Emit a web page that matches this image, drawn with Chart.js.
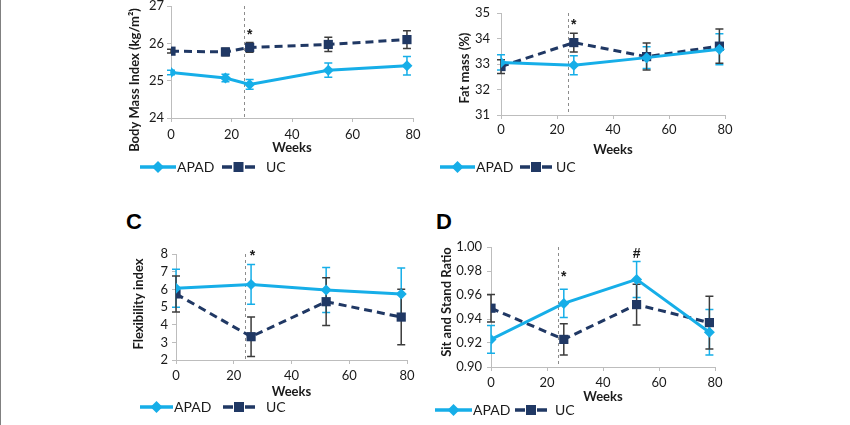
<!DOCTYPE html>
<html><head><meta charset="utf-8">
<script src="https://cdn.jsdelivr.net/npm/chart.js@4.4.1/dist/chart.umd.min.js"></script>
<style>
html,body{margin:0;padding:0;background:#fff;}
body{width:850px;height:425px;position:relative;overflow:hidden;}
canvas{position:absolute;}
.edge{position:absolute;left:0;top:0;width:1px;height:425px;background:#808080;}
.lbl{position:absolute;font:bold 22px 'Liberation Sans',Arial,sans-serif;color:#000;line-height:22px;}
</style></head>
<body>
<div class="edge"></div>
<div class="lbl" style="left:126px;top:211px">C</div>
<div class="lbl" style="left:436px;top:211px">D</div>
<canvas id="cA"></canvas>
<canvas id="cB"></canvas>
<canvas id="cC"></canvas>
<canvas id="cD"></canvas>
<script>
// ---- data ----
const seriesNames = ['APAD', 'UC'];
const weeksBMI = [0, 18, 26, 52, 78];
const weeks = [0, 26, 52, 78];
const interventionWeek = 24;

const bmiAPAD = [25.22, 25.07, 24.90, 25.28, 25.40];
const bmiAPADErr = [0.06, 0.10, 0.13, 0.19, 0.25];
const bmiUC = [25.79, 25.77, 25.89, 25.97, 26.10];
const bmiUCErr = [0.05, 0.10, 0.13, 0.19, 0.24];

const fatAPAD = [33.06, 32.95, 33.25, 33.58];
const fatAPADErr = [0.30, 0.37, 0.43, 0.61];
const fatUC = [32.90, 33.84, 33.29, 33.70];
const fatUCErr = [0.27, 0.37, 0.53, 0.67];

const flexAPAD = [6.06, 6.28, 5.96, 5.74];
const flexAPADErr = [1.07, 1.12, 1.27, 1.47];
const flexUC = [5.74, 3.32, 5.30, 4.43];
const flexUCErr = [1.02, 1.12, 1.35, 1.57];

const sitAPAD = [0.923, 0.953, 0.973, 0.929];
const sitAPADErr = [0.0115, 0.0118, 0.015, 0.019];
const sitUC = [0.949, 0.923, 0.952, 0.937];
const sitUCErr = [0.0115, 0.013, 0.017, 0.022];

const marksBMI = [{x: 26, y: 26.22, t: '*'}];
const marksFat = [{x: 26, y: 34.54, t: '*'}];
const marksFlex = [{x: 26.5, y: 7.88, t: '*'}];
const marksSit = [{x: 26, y: 0.975, t: '*'}, {x: 52, y: 0.994, t: '#'}];

// ---- style ----
const CYAN = '#16aee8';
const NAVY = '#203864';
const UC_ERR = '#3c3c3c';
const AXIS = '#bdbdbd';
const TXT = '#1a1a1a';
const FONT = 'Lato, "Liberation Sans", sans-serif';
Chart.defaults.font.family = FONT;
Chart.defaults.color = TXT;

const extrasPlugin = {
  id: 'extras',
  beforeDatasetsDraw(chart) {
    const {ctx, chartArea, scales} = chart;
    const vx = scales.x.getPixelForValue(interventionWeek);
    ctx.save();
    ctx.strokeStyle = '#8c8c8c'; ctx.lineWidth = 1; ctx.setLineDash([3, 3]);
    ctx.beginPath(); ctx.moveTo(Math.round(vx) + 0.5, chartArea.top); ctx.lineTo(Math.round(vx) + 0.5, chartArea.bottom); ctx.stroke();
    ctx.restore();
    chart.data.datasets.forEach((ds, i) => {
      const meta = chart.getDatasetMeta(i);
      ctx.save();
      ctx.strokeStyle = ds.errColor; ctx.lineWidth = 1.5; ctx.setLineDash([]);
      meta.data.forEach((pt, j) => {
        const v = ds.data[j].y, e = ds.errors[j];
        const y1 = scales.y.getPixelForValue(v + e), y2 = scales.y.getPixelForValue(v - e);
        ctx.beginPath();
        ctx.moveTo(pt.x, y1); ctx.lineTo(pt.x, y2);
        ctx.moveTo(pt.x - 4, y1); ctx.lineTo(pt.x + 4, y1);
        ctx.moveTo(pt.x - 4, y2); ctx.lineTo(pt.x + 4, y2);
        ctx.stroke();
      });
      ctx.restore();
    });
  },
  afterDraw(chart) {
    const o = chart.options.plugins.extras;
    const {ctx, scales} = chart;
    ctx.save();
    ctx.fillStyle = TXT; ctx.textAlign = 'center'; ctx.textBaseline = 'middle';
    ctx.font = 'bold 14px "Liberation Sans", Arial, sans-serif';
    o.marks.forEach(m => ctx.fillText(m.t, scales.x.getPixelForValue(m.x), scales.y.getPixelForValue(m.y)));
    ctx.save();
    ctx.translate(o.yTitle.x - o.cx, o.yTitle.y - o.cy);
    ctx.rotate(-Math.PI / 2);
    ctx.font = 'bold 13px ' + FONT;
    ctx.fillText(o.yTitle.text, 0, 0);
    ctx.restore();
    const ly = o.legend.y - o.cy;
    chart.data.datasets.forEach((ds, i) => {
      const it = o.legend.items[i];
      const x0 = it.x - o.cx, x1 = x0 + it.len;
      const mx = (x0 + x1) / 2;
      ctx.strokeStyle = ds.borderColor; ctx.lineWidth = 3.5;
      ctx.beginPath();
      if (ds.borderDash) {
        ctx.moveTo(x0, ly); ctx.lineTo(x0 + 10, ly);
        ctx.moveTo(x1 - 10, ly); ctx.lineTo(x1, ly);
      } else {
        ctx.moveTo(x0, ly); ctx.lineTo(x1, ly);
      }
      ctx.stroke();
      ctx.fillStyle = ds.borderColor;
      ctx.beginPath();
      if (ds.pointStyle === 'rectRot') {
        ctx.moveTo(mx, ly - 6); ctx.lineTo(mx + 6, ly); ctx.lineTo(mx, ly + 6); ctx.lineTo(mx - 6, ly);
        ctx.closePath();
      } else {
        ctx.rect(mx - 5, ly - 5, 10, 10);
      }
      ctx.fill();
      ctx.fillStyle = TXT; ctx.font = '14px ' + FONT; ctx.textAlign = 'left';
      ctx.fillText(ds.label, it.textX - o.cx, ly);
    });
    ctx.restore();
  }
};

function makePanel(id, p) {
  const cv = document.getElementById(id);
  cv.style.left = p.cx + 'px'; cv.style.top = p.cy + 'px';
  cv.width = p.w; cv.height = p.h;
  cv.style.width = p.w + 'px'; cv.style.height = p.h + 'px';
  const xAxisBottom = p.weeksY + 10.8;
  const xAxisH = xAxisBottom - p.area.b;
  const yAxisW = p.area.l - p.cx;
  const mk = (xs, ys) => xs.map((x, i) => ({x: x, y: ys[i]}));
  return new Chart(cv, {
    type: 'line',
    data: {
      datasets: [
        {label: seriesNames[0], data: mk(p.x1, p.apad), errors: p.apadErr, errColor: CYAN,
         borderColor: CYAN, backgroundColor: CYAN, borderWidth: 3, tension: 0,
         pointStyle: 'rectRot', pointRadius: 5.5, pointBorderWidth: 0, pointBackgroundColor: CYAN},
        {label: seriesNames[1], data: mk(p.x2, p.uc), errors: p.ucErr, errColor: UC_ERR,
         borderColor: NAVY, backgroundColor: NAVY, borderWidth: 3, borderDash: [8, 5], tension: 0,
         pointStyle: 'rect', pointRadius: 6.5, pointBorderWidth: 0, pointBackgroundColor: NAVY}
      ]
    },
    options: {
      responsive: false, animation: false, devicePixelRatio: 1,
      layout: {padding: {left: 0, top: p.area.t - p.cy, right: p.cx + p.w - p.area.r, bottom: p.cy + p.h - xAxisBottom}},
      scales: {
        x: {
          type: 'linear', min: 0, max: 80,
          ticks: {stepSize: 20, autoSkip: false, maxRotation: 0, padding: p.xTickY - p.area.b - 4 - 7.8, font: {size: 13}, color: TXT},
          grid: {display: true, drawOnChartArea: false, drawTicks: true, tickLength: 4, color: AXIS},
          border: {display: true, color: AXIS, width: 1},
          title: {display: true, text: 'Weeks', font: {size: 13, weight: 'bold'}, color: TXT, padding: {top: 0, bottom: 3}},
          afterFit: s => { s.height = xAxisH; }
        },
        y: {
          type: 'linear', min: p.ymin, max: p.ymax,
          ticks: {stepSize: p.step, autoSkip: false, padding: p.yTickPad, font: {size: 13}, color: TXT,
                  callback: v => v.toFixed(p.dec)},
          grid: {display: true, drawOnChartArea: false, drawTicks: true, tickLength: 4, color: AXIS},
          border: {display: true, color: AXIS, width: 1},
          afterFit: s => { s.width = yAxisW; }
        }
      },
      plugins: {
        legend: {display: false}, tooltip: {enabled: false},
        extras: {cx: p.cx, cy: p.cy, marks: p.marks, yTitle: p.yTitle, legend: p.legend}
      }
    },
    plugins: [extrasPlugin]
  });
}

makePanel('cA', {
  cx: 115, cy: -10, w: 315, h: 195,
  area: {l: 171, r: 413, t: 6, b: 118}, xTickY: 135, weeksY: 148, yTickPad: 3,
  x1: weeksBMI, x2: weeksBMI, apad: bmiAPAD, apadErr: bmiAPADErr, uc: bmiUC, ucErr: bmiUCErr,
  ymin: 24, ymax: 27, step: 1, dec: 0, marks: marksBMI,
  yTitle: {text: 'Body Mass Index (kg/m²)', x: 135, y: 80},
  legend: {y: 167, items: [{x: 140, len: 36, textX: 177}, {x: 222, len: 33, textX: 266}]}
});
makePanel('cB', {
  cx: 440, cy: -10, w: 305, h: 195,
  area: {l: 501, r: 725, t: 13, b: 115}, xTickY: 130, weeksY: 150, yTickPad: 7,
  x1: weeks, x2: weeks, apad: fatAPAD, apadErr: fatAPADErr, uc: fatUC, ucErr: fatUCErr,
  ymin: 31, ymax: 35, step: 1, dec: 0, marks: marksFat,
  yTitle: {text: 'Fat mass (%)', x: 465, y: 68},
  legend: {y: 167, items: [{x: 440, len: 35, textX: 476}, {x: 520, len: 32, textX: 556}]}
});
makePanel('cC', {
  cx: 120, cy: 235, w: 305, h: 190,
  area: {l: 176, r: 407, t: 254, b: 360}, xTickY: 376, weeksY: 392, yTickPad: 4,
  x1: weeks, x2: weeks, apad: flexAPAD, apadErr: flexAPADErr, uc: flexUC, ucErr: flexUCErr,
  ymin: 2, ymax: 8, step: 1, dec: 0, marks: marksFlex,
  yTitle: {text: 'Flexibility index', x: 139, y: 304},
  legend: {y: 407, items: [{x: 140, len: 33, textX: 174}, {x: 223, len: 32, textX: 266}]}
});
makePanel('cD', {
  cx: 430, cy: 230, w: 305, h: 195,
  area: {l: 491, r: 715, t: 247, b: 367}, xTickY: 383, weeksY: 397, yTickPad: 5,
  x1: weeks, x2: weeks, apad: sitAPAD, apadErr: sitAPADErr, uc: sitUC, ucErr: sitUCErr,
  ymin: 0.90, ymax: 1.00, step: 0.02, dec: 2, marks: marksSit,
  yTitle: {text: 'Sit and Stand Ratio', x: 447, y: 302},
  legend: {y: 410, items: [{x: 435, len: 37, textX: 473}, {x: 515, len: 32, textX: 555}]}
});
</script>
</body></html>
